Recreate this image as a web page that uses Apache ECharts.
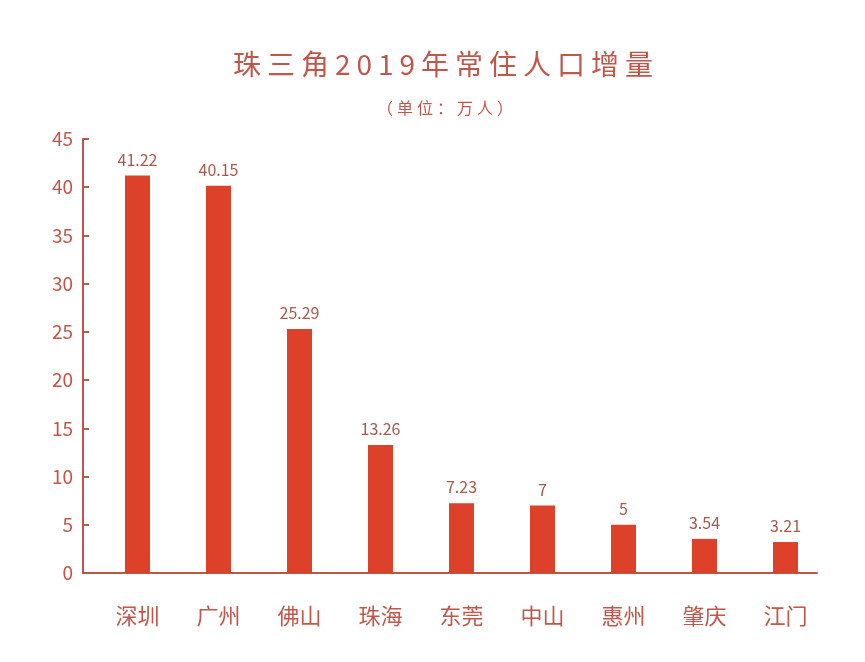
<!DOCTYPE html>
<html><head><meta charset="utf-8">
<script src="https://cdn.jsdelivr.net/npm/echarts@6/dist/echarts.min.js"></script>
<style>html,body{margin:0;padding:0;background:#fff}#c{width:865px;height:662px}</style>
</head><body><div id="c"></div>
<script>
const categories = ['深圳','广州','佛山','珠海','东莞','中山','惠州','肇庆','江门'];
const values = [41.22, 40.15, 25.29, 13.26, 7.23, 7, 5, 3.54, 3.21];
const yTicks = [0,5,10,15,20,25,30,35,40,45];
const titleText = '珠三角2019年常住人口增量';
const subText = '（单位：万人）';

const axisColor = '#b9574c';
const textColor = '#c0574a';
const barColor = '#dd412a';
const font = '"Noto Sans CJK SC", "Noto Sans", sans-serif';

// letter-spaced text via rich segments
const spaced = s => Array.from(s).map(ch => '{s|' + ch + '}').join('');

const chart = echarts.init(document.getElementById('c'));
chart.setOption({
  backgroundColor: '#fff',
  animation: false,
  title: [
    {text: spaced(titleText), left: 438, textAlign: 'center', top: 42,
     textStyle: {rich: {s: {color: textColor, fontSize: 28, fontWeight: 'normal', fontFamily: font, padding: [0, 3], lineHeight: 34}}}},
    {text: spaced(subText), left: 440, textAlign: 'center', top: 92,
     textStyle: {rich: {s: {color: textColor, fontSize: 16, fontWeight: 'normal', fontFamily: font, padding: [0, 2], lineHeight: 22}}}}
  ],
  grid: [
    {left: 97, right: 39, top: 139, bottom: 89},
    {left: 83, right: 48, top: 139, bottom: 89}
  ],
  xAxis: [
    {type: 'category', gridIndex: 0, data: categories,
     axisLine: {show: false}, axisTick: {show: false},
     axisLabel: {color: textColor, fontSize: 22, margin: 32, fontFamily: font}},
    {type: 'value', gridIndex: 1, min: 0, max: 1,
     axisLine: {show: true, lineStyle: {color: axisColor, width: 2}},
     axisTick: {show: false}, axisLabel: {show: false}, splitLine: {show: false}}
  ],
  yAxis: [
    {type: 'value', gridIndex: 0, min: 0, max: yTicks[yTicks.length-1], interval: 5, offset: 14,
     axisLine: {show: true, lineStyle: {color: axisColor, width: 2}},
     axisTick: {show: true, inside: true, length: 6, lineStyle: {color: axisColor, width: 2}},
     axisLabel: {color: textColor, fontSize: 19, margin: 10, fontFamily: font},
     splitLine: {show: false}},
    {type: 'value', gridIndex: 1, min: 0, max: 45, show: false}
  ],
  series: [{
    type: 'bar', xAxisIndex: 0, yAxisIndex: 0, data: values, barWidth: 25,
    itemStyle: {color: barColor},
    label: {show: true, position: 'top', distance: 8, color: '#a8584e', fontSize: 16, fontFamily: font}
  }]
});
</script></body></html>
